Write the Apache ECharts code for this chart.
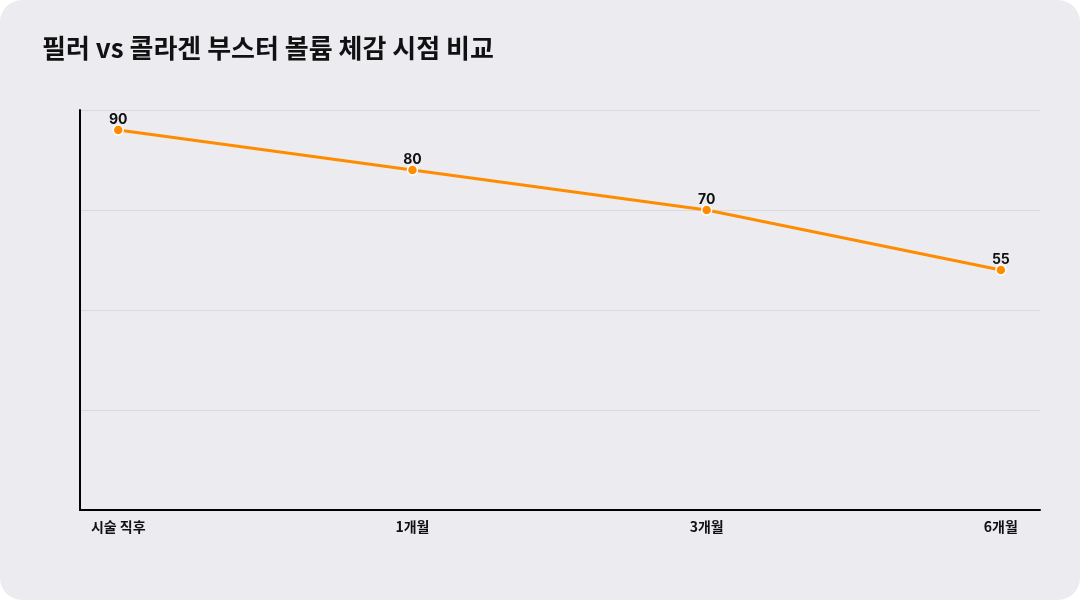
<!DOCTYPE html>
<html>
<head>
<meta charset="utf-8">
<script src="https://cdn.jsdelivr.net/npm/echarts@6/dist/echarts.min.js"></script>
<style>
  html,body{margin:0;padding:0;background:#ffffff;}
  #wrap{width:1080px;height:600px;background:#ECEBF0;border-radius:22px;overflow:hidden;}
  #chart{width:1080px;height:600px;}
</style>
</head>
<body>
<div id="wrap"><div id="chart"></div></div>
<script>
// 시점 카테고리
var categories = ['시술 직후', '1개월', '3개월', '6개월'];
// 볼륨 체감 값
var volumeValues = [90, 80, 70, 55];

var seriesData = volumeValues.map(function (v, i) { return [i, v]; });

var myChart = echarts.init(document.getElementById('chart'), null, { renderer: 'canvas' });

var option = {
    backgroundColor: 'transparent',
    animation: false,
    title: {
        text: '필러 vs 콜라겐 부스터 볼륨 체감 시점 비교',
        left: 37,
        top: 30,
        textStyle: {
            fontFamily: 'Noto Sans CJK KR',
            fontSize: 26,
            fontWeight: 'bold',
            color: '#111111'
        }
    },
    grid: { left: 80, right: 40, top: 110, bottom: 90 },
    xAxis: {
        type: 'value',
        min: -0.13,
        max: 3.133,
        axisLine: { show: true, onZero: false, lineStyle: { color: '#000000', width: 2 } },
        axisTick: { show: false },
        splitLine: { show: false },
        axisLabel: {
            customValues: [0, 1, 2, 3],
            formatter: function (v) { return categories[Math.round(v)]; },
            fontFamily: 'Noto Sans CJK KR',
            fontSize: 14,
            fontWeight: 'bold',
            color: '#111111',
            margin: 10
        }
    },
    yAxis: {
        type: 'value',
        min: -5,
        max: 95,
        interval: 25,
        axisLine: { show: true, onZero: false, lineStyle: { color: '#000000', width: 2 } },
        axisTick: { show: false },
        axisLabel: { show: false },
        splitLine: { show: true, lineStyle: { color: '#D9D8DC', width: 1 } }
    },
    series: [{
        type: 'line',
        data: seriesData,
        symbol: 'circle',
        symbolSize: 10,
        lineStyle: { color: '#FF8C00', width: 3 },
        itemStyle: { color: '#FF8C00', borderColor: '#ffffff', borderWidth: 1.5 },
        label: {
            show: true,
            position: 'top',
            distance: -3,
            formatter: function (p) { return p.data[1]; },
            fontFamily: 'Inter',
            fontSize: 14,
            fontWeight: 'bold',
            color: '#111111'
        }
    }]
};

myChart.setOption(option);
window.onresize = myChart.resize;
</script>
</body>
</html>
